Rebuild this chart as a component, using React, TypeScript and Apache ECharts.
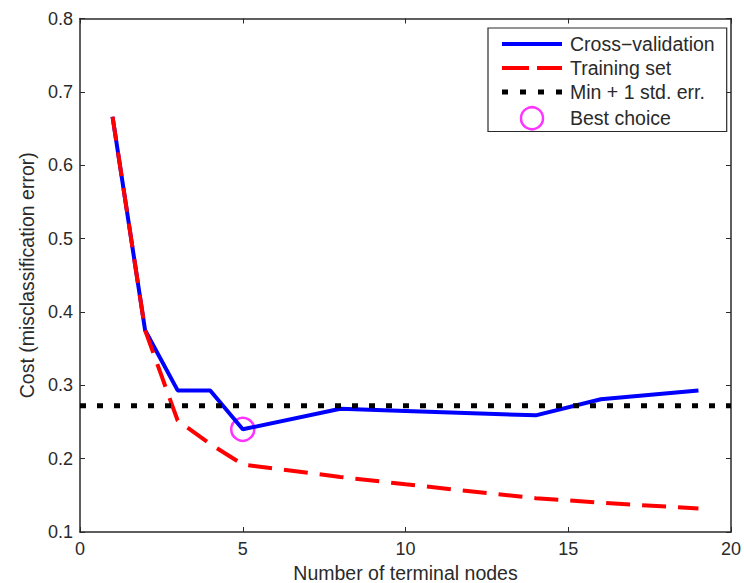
import React, { useEffect, useRef } from "react";
import * as echarts from "echarts";

const cvX = [1, 2, 3, 4, 5, 8, 10, 14, 16, 19];
const cvY = [0.666, 0.375, 0.293, 0.293, 0.24, 0.268, 0.265, 0.259, 0.281, 0.293];
const trainX = [1, 2, 3, 4, 5, 8, 10, 14, 16, 19];
const trainY = [0.666, 0.375, 0.252, 0.22, 0.192, 0.175, 0.165, 0.146, 0.14, 0.132];
const minStdErr = 0.272;
const minStdX = [0, 20];
const bestChoice = [5, 0.24];
const seriesNames = ["Cross\u2212validation", "Training set", "Min + 1 std. err.", "Best choice"];
const xTitle = "Number of terminal nodes";
const yTitle = "Cost (misclassification error)";

const FONT = "'Liberation Sans', Arial, Helvetica, sans-serif";
const AX = "#2a2a2a";
const FS = 18;
const FT = 19.5;

export default function App() {
  const ref = useRef<HTMLDivElement>(null);
  useEffect(() => {
    if (!ref.current) return;
    const chart = echarts.init(ref.current, undefined, { renderer: "svg" });
    const axisCommon = {
      axisLine: { show: true, onZero: false, lineStyle: { color: AX, width: 1.5 } },
      axisTick: { show: true, inside: true, length: 5, lineStyle: { color: AX, width: 1 } },
      splitLine: { show: false },
    };
    chart.setOption({
      animation: false,
      backgroundColor: "#ffffff",
      textStyle: { fontFamily: FONT },
      grid: { left: 80, right: 13, top: 18.5, bottom: 51, containLabel: false, outerBoundsMode: "none" },
      xAxis: [
        {
          type: "value", min: 0, max: 20, interval: 5, position: "bottom",
          ...axisCommon,
          axisLabel: { color: AX, fontSize: FS, margin: 8, fontFamily: FONT },
          name: xTitle, nameLocation: "middle", nameGap: 30,
          nameTextStyle: { color: AX, fontSize: FT, fontFamily: FONT },
        },
        {
          type: "value", min: 0, max: 20, interval: 5, position: "top",
          ...axisCommon, axisLabel: { show: false },
        },
      ],
      yAxis: [
        {
          type: "value", min: 0.1, max: 0.8, interval: 0.1, position: "left",
          ...axisCommon,
          axisLabel: { color: AX, fontSize: FS, margin: 7, fontFamily: FONT, formatter: (v: number) => v.toFixed(1) },
          name: yTitle, nameLocation: "middle", nameGap: 43,
          nameTextStyle: { color: AX, fontSize: FT, fontFamily: FONT },
        },
        {
          type: "value", min: 0.1, max: 0.8, interval: 0.1, position: "right",
          ...axisCommon, axisLabel: { show: false },
        },
      ],
      legend: {
        orient: "vertical",
        left: 488, top: 28,
        backgroundColor: "#ffffff",
        borderColor: AX, borderWidth: 1.2,
        padding: [6, 12, 1, 14],
        itemGap: 4,
        itemWidth: 60, itemHeight: 22,
        symbolKeepAspect: true,
        textStyle: { color: AX, fontSize: FT, fontFamily: FONT, padding: [0, 0, 0, 3] },
        data: [
          { name: seriesNames[0], icon: "path://M0,0h60v4h-60z", itemStyle: { color: "#0000ff", borderWidth: 0 } },
          { name: seriesNames[1], icon: "path://M0,0h27v4h-27z M35,0h25v4h-25z", itemStyle: { color: "#ff0000", borderWidth: 0 } },
          { name: seriesNames[2], icon: "path://M0,0h6v5h-6z M18,0h6v5h-6z M36,0h6v5h-6z M54,0h6v5h-6z", itemStyle: { color: "#000000", borderWidth: 0 } },
          { name: seriesNames[3], icon: "circle", itemStyle: { color: "rgba(0,0,0,0)", borderColor: "#ff00ff", borderWidth: 2.5 } },
        ],
      },
      series: [
        {
          name: seriesNames[0], type: "line", symbol: "none",
          data: cvX.map((x, i) => [x, cvY[i]]),
          lineStyle: { color: "#0000ff", width: 4 }, itemStyle: { color: "#0000ff" },
        },
        {
          name: seriesNames[1], type: "line", symbol: "none",
          data: trainX.map((x, i) => [x, trainY[i]]),
          lineStyle: { color: "#ff0000", width: 4, type: [24, 12] }, itemStyle: { color: "#ff0000" },
        },
        {
          name: seriesNames[2], type: "line", symbol: "none",
          data: minStdX.map((x) => [x, minStdErr]),
          lineStyle: { color: "#000000", width: 5, type: [6, 11] }, itemStyle: { color: "#000000" },
        },
        {
          name: seriesNames[3], type: "scatter", symbol: "circle", symbolSize: 23,
          data: [bestChoice],
          itemStyle: { color: "rgba(0,0,0,0)", borderColor: "#ff00ff", borderWidth: 2.5 },
        },
      ],
    });
    return () => chart.dispose();
  }, []);
  return <div ref={ref} style={{ width: 744, height: 583, position: "absolute", left: 0, top: 0 }} />;
}
